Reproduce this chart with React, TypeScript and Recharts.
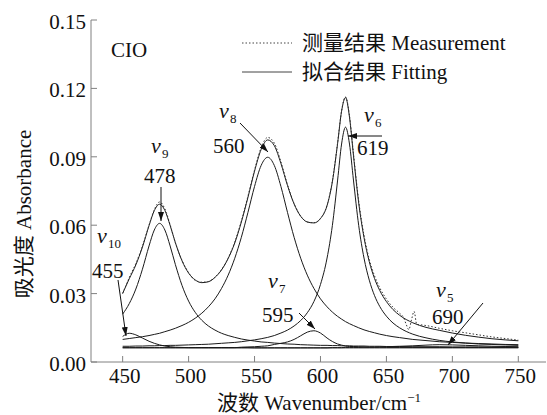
import React from 'react';
import { LineChart, Line, XAxis, YAxis, Legend } from 'recharts';

const wavenumbers = [450, 455, 460, 465, 470, 474, 478, 482, 486, 490, 495, 500, 505, 510, 515, 520, 525, 530, 535, 540, 545, 550, 555, 560, 565, 570, 575, 580, 585, 590, 595, 600, 605, 609, 613, 616, 619, 622, 625, 629, 633, 637, 641, 645, 650, 655, 660, 670, 680, 690, 700, 710, 720, 730, 740, 750];

const fitting = [0.0301, 0.0365, 0.0426, 0.0504, 0.0598, 0.0664, 0.0692, 0.0665, 0.0599, 0.0523, 0.0444, 0.0390, 0.0360, 0.0348, 0.0352, 0.0371, 0.0404, 0.0454, 0.0522, 0.0614, 0.0722, 0.0837, 0.0932, 0.0974, 0.0949, 0.0871, 0.0774, 0.0693, 0.0639, 0.0614, 0.0610, 0.0629, 0.0686, 0.0790, 0.0959, 0.1100, 0.1160, 0.1074, 0.0907, 0.0697, 0.0546, 0.0440, 0.0366, 0.0313, 0.0265, 0.0230, 0.0205, 0.0172, 0.0152, 0.0139, 0.0127, 0.0117, 0.0109, 0.0102, 0.0097, 0.0093];

const band10 = [0.0112, 0.0126, 0.0119, 0.0105, 0.0091, 0.0082, 0.0075, 0.0070, 0.0067, 0.0065, 0.0064, 0.0063, 0.0063, 0.0063, 0.0063, 0.0063, 0.0063, 0.0063, 0.0063, 0.0063, 0.0063, 0.0062, 0.0062, 0.0062, 0.0062, 0.0062, 0.0062, 0.0062, 0.0062, 0.0062, 0.0062, 0.0062, 0.0062, 0.0062, 0.0062, 0.0062, 0.0062, 0.0062, 0.0062, 0.0062, 0.0062, 0.0062, 0.0062, 0.0062, 0.0062, 0.0062, 0.0062, 0.0062, 0.0062, 0.0062, 0.0062, 0.0062, 0.0062, 0.0062, 0.0062, 0.0062];

const band9 = [0.0210, 0.0256, 0.0320, 0.0407, 0.0509, 0.0579, 0.0608, 0.0579, 0.0509, 0.0427, 0.0336, 0.0267, 0.0218, 0.0183, 0.0158, 0.0140, 0.0126, 0.0116, 0.0108, 0.0101, 0.0096, 0.0092, 0.0088, 0.0086, 0.0083, 0.0081, 0.0079, 0.0078, 0.0076, 0.0075, 0.0074, 0.0073, 0.0073, 0.0072, 0.0072, 0.0071, 0.0071, 0.0071, 0.0070, 0.0070, 0.0070, 0.0069, 0.0069, 0.0069, 0.0068, 0.0068, 0.0068, 0.0067, 0.0067, 0.0067, 0.0066, 0.0066, 0.0066, 0.0065, 0.0065, 0.0065];

const band8 = [0.0099, 0.0103, 0.0107, 0.0111, 0.0116, 0.0121, 0.0126, 0.0133, 0.0140, 0.0148, 0.0160, 0.0174, 0.0192, 0.0214, 0.0242, 0.0277, 0.0323, 0.0381, 0.0455, 0.0547, 0.0656, 0.0770, 0.0862, 0.0898, 0.0862, 0.0770, 0.0656, 0.0547, 0.0455, 0.0381, 0.0323, 0.0277, 0.0242, 0.0219, 0.0200, 0.0188, 0.0177, 0.0168, 0.0160, 0.0150, 0.0141, 0.0134, 0.0128, 0.0122, 0.0116, 0.0111, 0.0107, 0.0099, 0.0094, 0.0089, 0.0086, 0.0083, 0.0081, 0.0079, 0.0077, 0.0076];

const band7 = [0.0063, 0.0063, 0.0063, 0.0063, 0.0063, 0.0063, 0.0063, 0.0063, 0.0063, 0.0063, 0.0063, 0.0063, 0.0063, 0.0063, 0.0063, 0.0063, 0.0063, 0.0063, 0.0063, 0.0065, 0.0066, 0.0067, 0.0069, 0.0071, 0.0077, 0.0082, 0.0088, 0.0099, 0.0115, 0.0131, 0.0137, 0.0127, 0.0105, 0.0090, 0.0079, 0.0074, 0.0070, 0.0068, 0.0068, 0.0067, 0.0066, 0.0065, 0.0065, 0.0065, 0.0064, 0.0064, 0.0064, 0.0064, 0.0064, 0.0064, 0.0064, 0.0064, 0.0064, 0.0064, 0.0064, 0.0064];

const band6 = [0.0069, 0.0069, 0.0070, 0.0070, 0.0071, 0.0071, 0.0072, 0.0072, 0.0073, 0.0073, 0.0074, 0.0075, 0.0076, 0.0077, 0.0078, 0.0080, 0.0082, 0.0084, 0.0086, 0.0089, 0.0093, 0.0097, 0.0102, 0.0108, 0.0116, 0.0127, 0.0140, 0.0158, 0.0182, 0.0216, 0.0265, 0.0340, 0.0456, 0.0598, 0.0798, 0.0956, 0.1030, 0.0956, 0.0798, 0.0598, 0.0456, 0.0359, 0.0291, 0.0243, 0.0201, 0.0171, 0.0150, 0.0122, 0.0106, 0.0095, 0.0088, 0.0083, 0.0079, 0.0077, 0.0075, 0.0073];

const band5 = [0.0062, 0.0062, 0.0062, 0.0062, 0.0062, 0.0062, 0.0062, 0.0062, 0.0062, 0.0062, 0.0062, 0.0062, 0.0062, 0.0062, 0.0062, 0.0062, 0.0062, 0.0062, 0.0062, 0.0062, 0.0062, 0.0062, 0.0062, 0.0062, 0.0062, 0.0062, 0.0062, 0.0062, 0.0062, 0.0062, 0.0062, 0.0062, 0.0062, 0.0063, 0.0063, 0.0063, 0.0064, 0.0064, 0.0064, 0.0064, 0.0065, 0.0065, 0.0065, 0.0066, 0.0067, 0.0068, 0.0069, 0.0071, 0.0074, 0.0076, 0.0075, 0.0073, 0.0071, 0.0069, 0.0068, 0.0067];

const measWavenumbers = [450, 455, 460, 465, 470, 474, 478, 482, 486, 490, 495, 500, 505, 510, 515, 520, 525, 530, 535, 540, 545, 550, 555, 560, 565, 570, 575, 580, 585, 590, 595, 600, 605, 609, 613, 616, 619, 622, 625, 629, 633, 637, 641, 645, 650, 655, 660, 663, 665, 667, 669, 671, 673, 676, 680, 690, 700, 710, 720, 730, 740, 750];

const measurement = [0.0300, 0.0370, 0.0432, 0.0508, 0.0600, 0.0668, 0.0702, 0.0672, 0.0602, 0.0522, 0.0446, 0.0392, 0.0358, 0.0350, 0.0353, 0.0372, 0.0406, 0.0456, 0.0526, 0.0618, 0.0727, 0.0842, 0.0940, 0.0985, 0.0960, 0.0878, 0.0778, 0.0695, 0.0640, 0.0614, 0.0611, 0.0630, 0.0688, 0.0793, 0.0962, 0.1102, 0.1163, 0.1080, 0.0915, 0.0705, 0.0556, 0.0450, 0.0378, 0.0325, 0.0276, 0.0240, 0.0214, 0.0195, 0.0165, 0.0142, 0.0185, 0.0222, 0.0165, 0.0163, 0.0160, 0.0148, 0.0137, 0.0128, 0.0119, 0.0110, 0.0103, 0.0096];

const xTicks = [450, 500, 550, 600, 650, 700, 750];
const yTicks = [0, 0.03, 0.06, 0.09, 0.12, 0.15];

const legendLabels = ['测量结果 Measurement', '拟合结果 Fitting'];

const FONT = "'Liberation Serif', 'Noto Sans CJK SC', serif";
const INK = '#1a1a1a';
const AXIS = '#808080';

const pts = (xs: number[], ys: number[]) => xs.map((x, i) => ({ x, y: ys[i] }));

const components = [band10, band9, band8, band7, band6, band5];

const XTick = (props: any) => {
  const { x, y, payload } = props;
  return (
    <text x={x + 2} y={y} dy={15} textAnchor="middle" fontSize={21} fontFamily={FONT} fill="#111">
      {payload.value}
    </text>
  );
};

const YTick = (props: any) => {
  const { x, y, payload } = props;
  return (
    <text x={x} y={y} dy={9} textAnchor="end" fontSize={21} fontFamily={FONT} fill="#111">
      {Number(payload.value).toFixed(2)}
    </text>
  );
};

const LegendContent = () => (
  <svg width={290} height={60} style={{ overflow: 'visible', display: 'block' }}>
    <line x1={0} y1={15} x2={50} y2={15} stroke="#444" strokeWidth={1} strokeDasharray="1.5 2" />
    <text x={60} y={22} fontSize={21} fontFamily={FONT} fill="#111">{legendLabels[0]}</text>
    <line x1={0} y1={44} x2={50} y2={44} stroke="#444" strokeWidth={1} />
    <text x={60} y={51} fontSize={21} fontFamily={FONT} fill="#111">{legendLabels[1]}</text>
  </svg>
);

const Sub = ({ x, y, v, s }: { x: number; y: number; v: string; s: string }) => (
  <g>
    <text x={x} y={y} fontSize={22} fontStyle="italic" fontFamily={FONT} fill="#111">{v}</text>
    <text x={x + 11} y={y + 5} fontSize={13} fontFamily={FONT} fill="#111">{s}</text>
  </g>
);

const annotations = [
  { label: '9', num: '478', vx: 151, vy: 153, nx: 144, ny: 183, a: [161, 187, 161, 221] },
  { label: '8', num: '560', vx: 219, vy: 118, nx: 213, ny: 153, a: [240, 123, 268, 152] },
  { label: '6', num: '619', vx: 364, vy: 122, nx: 357, ny: 155, a: [382, 136, 348, 136] },
  { label: '7', num: '595', vx: 268, vy: 288, nx: 262, ny: 322, a: [299, 313, 315, 329] },
  { label: '10', num: '455', vx: 97, vy: 243, nx: 92, ny: 278, a: [118, 280, 126, 336] },
  { label: '5', num: '690', vx: 436, vy: 297, nx: 432, ny: 324, a: [483, 303, 448, 345] },
];

export default function App() {
  return (
    <div style={{ position: 'absolute', left: 0, top: 0, width: 547, height: 415, background: '#fff' }}>
      <LineChart width={547} height={415} margin={{ top: 20, right: 1, bottom: 0, left: 0 }}>
        <XAxis
          type="number"
          dataKey="x"
          domain={[426, 771]}
          ticks={xTicks}
          allowDataOverflow
          height={53}
          stroke={AXIS}
          axisLine={{ stroke: AXIS }}
          tickLine={{ stroke: AXIS }}
          tickSize={-6}
          tickMargin={12}
          tick={<XTick />}
        />
        <YAxis
          type="number"
          dataKey="y"
          domain={[0, 0.15]}
          ticks={yTicks}
          allowDataOverflow
          width={91}
          stroke={AXIS}
          axisLine={{ stroke: AXIS }}
          tickLine={{ stroke: AXIS }}
          tickSize={-6}
          tickMargin={11}
          tick={<YTick />}
        />
        <Legend
          layout="horizontal"
          verticalAlign="middle"
          align="center"
          content={<LegendContent />}
          wrapperStyle={{ position: 'absolute', left: 242, top: 28, width: 290, height: 60 }}
        />
        {components.map((c, i) => (
          <Line
            key={i}
            data={pts(wavenumbers, c)}
            dataKey="y"
            type="monotone"
            stroke={INK}
            strokeWidth={1}
            dot={false}
            activeDot={false}
            isAnimationActive={false}
            legendType="none"
          />
        ))}
        <Line
          data={pts(wavenumbers, fitting)}
          dataKey="y"
          name="拟合结果 Fitting"
          type="monotone"
          stroke={INK}
          strokeWidth={1}
          dot={false}
          activeDot={false}
          isAnimationActive={false}
        />
        <Line
          data={pts(measWavenumbers, measurement)}
          dataKey="y"
          name="测量结果 Measurement"
          type="monotone"
          stroke="#333"
          strokeWidth={1}
          strokeDasharray="1.5 2"
          dot={false}
          activeDot={false}
          isAnimationActive={false}
        />
      </LineChart>
      <svg width={547} height={415} style={{ position: 'absolute', left: 0, top: 0, pointerEvents: 'none' }}>
        <defs>
          <marker id="ah" markerWidth={9} markerHeight={6} refX={9} refY={3} orient="auto" markerUnits="userSpaceOnUse">
            <path d="M0,0 L9,3 L0,6 z" fill="#111" />
          </marker>
        </defs>
        <text x={111} y={57} fontSize={21} fontFamily={FONT} fill="#111">CIO</text>
        {annotations.map((a, i) => (
          <g key={i}>
            <Sub x={a.vx} y={a.vy} v="v" s={a.label} />
            <text x={a.nx} y={a.ny} fontSize={21} fontFamily={FONT} fill="#111">{a.num}</text>
            <line x1={a.a[0]} y1={a.a[1]} x2={a.a[2]} y2={a.a[3]} stroke="#111" strokeWidth={1} markerEnd="url(#ah)" />
          </g>
        ))}
        <text transform="translate(24,214) rotate(-90)" textAnchor="middle" dominantBaseline="central" fontSize={21} fontFamily={FONT} fill="#111">
          吸光度 Absorbance
        </text>
        <text x={319} y={410} textAnchor="middle" fontSize={21} fontFamily={FONT} fill="#111">
          波数 Wavenumber/cm<tspan dy={-8} fontSize={13}>−1</tspan>
        </text>
      </svg>
    </div>
  );
}
